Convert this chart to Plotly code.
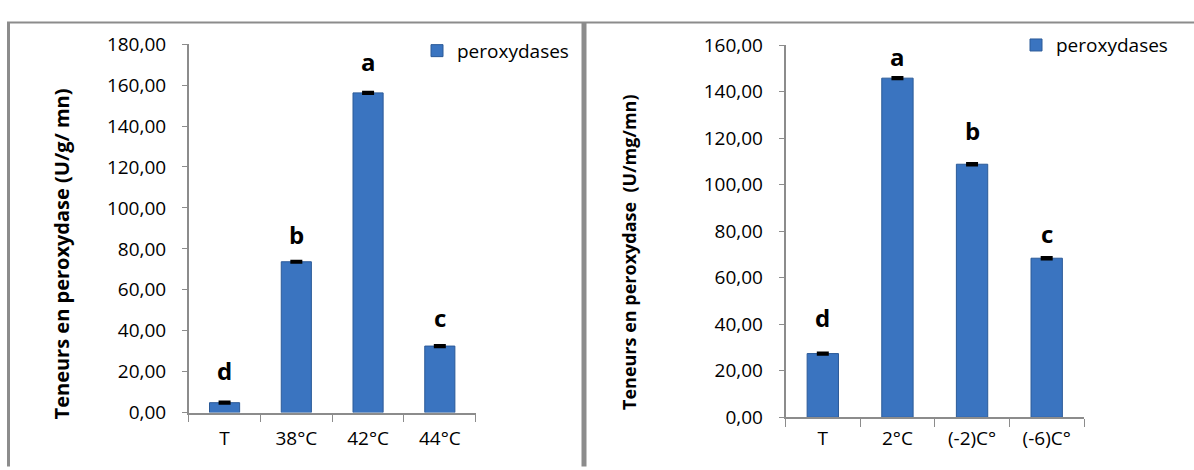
import plotly.graph_objects as go

W, H = 1194, 470

# Chaleur (panneau gauche)
cat_heat = ["T", "38°C", "42°C", "44°C"]
val_heat = [4.85, 73.7, 156.2, 32.5]
err_heat = [0.4, 0.4, 0.4, 0.4]
let_heat = ["d", "b", "a", "c"]
let_heat_y = [20.4, 86.9, 171.5, 46.6]

# Froid (panneau droit)
cat_cold = ["T", "2°C", "(-2)C°", "(-6)C°"]
val_cold = [27.4, 145.8, 108.8, 68.4]
err_cold = [0.4, 0.4, 0.4, 0.4]
let_cold = ["d", "a", "b", "c"]
let_cold_y = [43.0, 155.0, 123.4, 79.0]

FONT = "Open Sans, Noto Sans, sans-serif"
BAR = "#3a74c0"
EDGE = "#2b5a98"
AXIS = "#8c8c8c"


def px(x):
    return x / W


def py(y):
    return (H - y) / H


fig = go.Figure()

fig.add_trace(go.Bar(
    x=cat_heat, y=val_heat, name="peroxydases", xaxis="x", yaxis="y",
    width=0.42, marker=dict(color=BAR, line=dict(color=EDGE, width=1)),
    error_y=dict(type="data", array=err_heat, color="black", thickness=2.5, width=6),
    legend="legend", showlegend=True,
))
fig.add_trace(go.Bar(
    x=cat_cold, y=val_cold, name="peroxydases", xaxis="x2", yaxis="y2",
    width=0.42, marker=dict(color=BAR, line=dict(color=EDGE, width=1)),
    error_y=dict(type="data", array=err_cold, color="black", thickness=2.5, width=6),
    legend="legend2", showlegend=True,
))

annotations = []
for c, t, y in zip(cat_heat, let_heat, let_heat_y):
    annotations.append(dict(x=c, y=y, xref="x", yref="y", text=f"<b>{t}</b>",
                            showarrow=False, font=dict(size=24, color="black", family=FONT)))
for c, t, y in zip(cat_cold, let_cold, let_cold_y):
    annotations.append(dict(x=c, y=y, xref="x2", yref="y2", text=f"<b>{t}</b>",
                            showarrow=False, font=dict(size=24, color="black", family=FONT)))

annotations.append(dict(x=px(46), y=py(255), xref="paper", yref="paper",
                        text="<b>Teneurs en peroxydase (U/g/ mn)</b>", textangle=-90,
                        showarrow=False, font=dict(size=20, color="black", family=FONT)))
annotations.append(dict(x=px(629), y=py(253), xref="paper", yref="paper",
                        text="<b>Teneurs en peroxydase  (U/mg/mn)</b>", textangle=-90,
                        showarrow=False, font=dict(size=18, color="black", family=FONT)))

xcommon = dict(type="category", showline=True, linecolor=AXIS, linewidth=1.5,
               ticks="outside", tickson="boundaries", ticklen=8, tickcolor=AXIS,
               showgrid=False, zeroline=False, fixedrange=True,
               tickfont=dict(size=19, color="black", family=FONT))
ycommon = dict(showline=True, linecolor=AXIS, linewidth=1.5, ticks="outside", ticklen=5,
               tickcolor=AXIS, showgrid=False, zeroline=False, tickformat=".2f",
               tickfont=dict(size=19, color="black", family=FONT), ticklabelstandoff=12)

shapes = [
    # cadre gauche
    dict(type="line", xref="paper", yref="paper", x0=px(8.5), x1=px(8.5), y0=py(10), y1=py(480),
         line=dict(color=AXIS, width=3)),
    # ligne du haut
    dict(type="line", xref="paper", yref="paper", x0=px(7), x1=1, y0=py(10), y1=py(10),
         line=dict(color=AXIS, width=2)),
    # séparation des deux panneaux
    dict(type="line", xref="paper", yref="paper", x0=px(584), x1=px(584), y0=py(10), y1=py(480),
         line=dict(color=AXIS, width=5)),
]

fig.update_layout(
    width=W, height=H, margin=dict(l=0, r=0, t=0, b=0),
    paper_bgcolor="white", plot_bgcolor="white",
    separators=", ", showlegend=True,
    font=dict(family=FONT, color="black"),
    xaxis=dict(domain=[px(188.7), px(475.7)], anchor="y", ticklabelstandoff=8, **xcommon),
    yaxis=dict(domain=[py(423), py(33)], anchor="x", range=[0, 180], dtick=20, **ycommon),
    xaxis2=dict(domain=[px(785.5), px(1084)], anchor="y2", ticklabelstandoff=3, **xcommon),
    yaxis2=dict(domain=[py(428), py(34)], anchor="x2", range=[0, 160], dtick=20, **ycommon),
    legend=dict(x=px(417), y=py(40), xanchor="left", yanchor="middle",
                bgcolor="rgba(0,0,0,0)", font=dict(size=19, family=FONT, color="black")),
    legend2=dict(x=px(1016), y=py(34), xanchor="left", yanchor="middle",
                 bgcolor="rgba(0,0,0,0)", font=dict(size=19, family=FONT, color="black")),
    annotations=annotations,
    shapes=shapes,
)

fig.write_html("out.html")
